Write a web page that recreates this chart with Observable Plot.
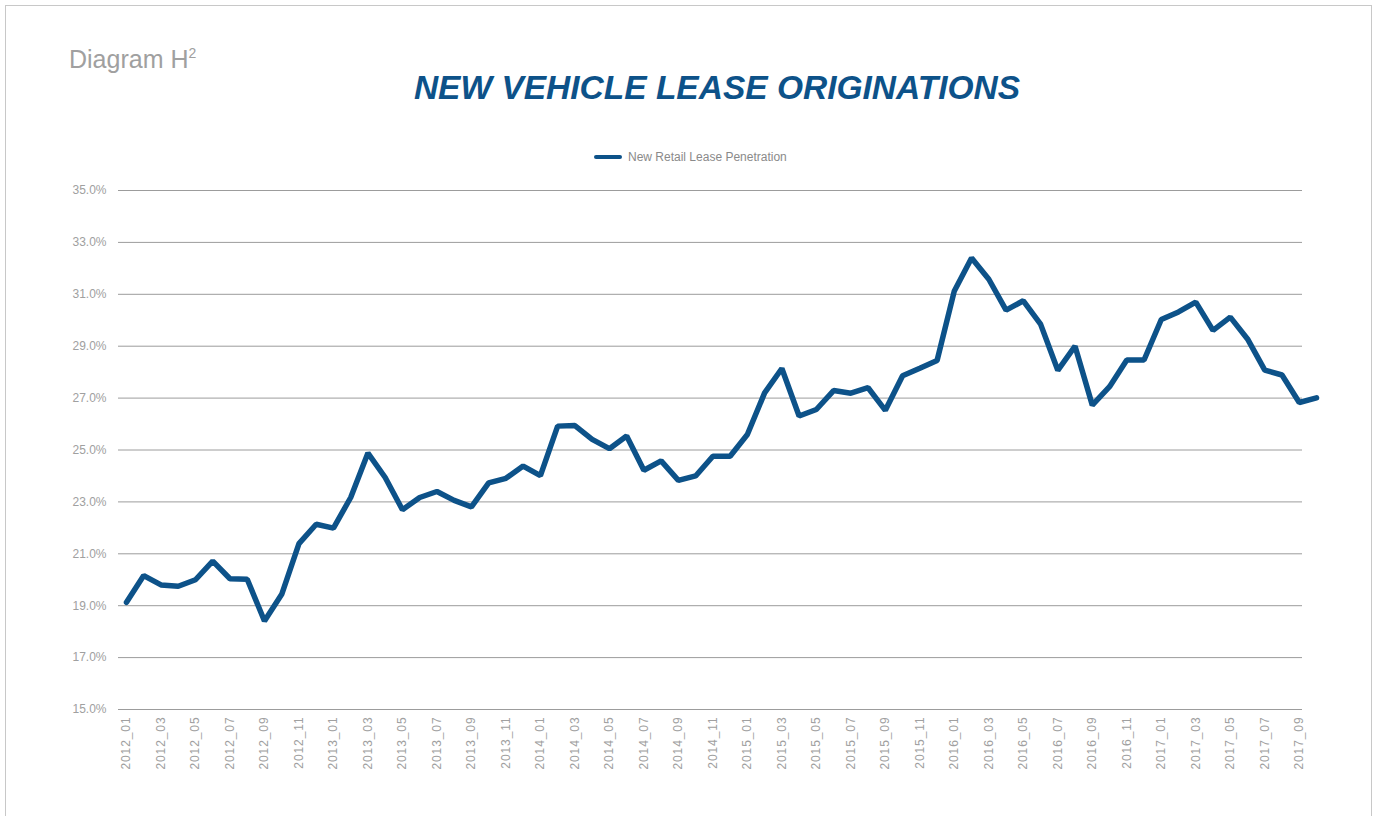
<!DOCTYPE html>
<html>
<head>
<meta charset="utf-8">
<script src="https://cdn.jsdelivr.net/npm/d3@7"></script>
<script src="https://cdn.jsdelivr.net/npm/@observablehq/plot@0.6"></script>
<style>
  html, body { margin: 0; padding: 0; background: #fff; width: 1379px; height: 816px; overflow: hidden; }
  body { position: relative; font-family: "Liberation Sans", Arial, sans-serif; }
  #frame { position: absolute; left: 5px; top: 5px; width: 1367px; height: 830px; border: 1px solid #c8c8c8; box-sizing: border-box; }
  #diagram { position: absolute; left: 69px; top: 45px; font-size: 25px; color: #a0a0a0; font-weight: 300; }
  #diagram sup { font-size: 14px; vertical-align: 10px; line-height: 0; }
  #title { position: absolute; left: 0; width: 1434px; top: 69px; text-align: center; font-size: 33.5px; font-weight: bold; font-style: italic; color: #0d5289; white-space: nowrap; }
  #legend { position: absolute; left: 594px; top: 150px; font-size: 12px; color: #8a8a8a; display: flex; align-items: center; }
  #legend .sw { width: 28px; height: 4px; background: #0d5289; border-radius: 2px; margin-right: 6px; }
  #chart { position: absolute; left: 0; top: 170px; }
  #chart svg g[aria-label="x-axis tick label"] text { letter-spacing: 0.9px; }
</style>
</head>
<body>
<div id="frame"></div>
<div id="diagram">Diagram H<sup>2</sup></div>
<div id="title">NEW VEHICLE LEASE ORIGINATIONS</div>
<div id="legend"><span class="sw"></span><span>New Retail Lease Penetration</span></div>
<div id="chart"></div>
<script>
const seriesName = "New Retail Lease Penetration";
const years = ["2012", "2013", "2014", "2015", "2016", "2017"];
const monthNums = ["01","02","03","04","05","06","07","08","09","10","11","12"];
const months = years.flatMap(y => monthNums.map(m => y + "_" + m)).slice(0, 70);
const values = [
  19.13, 20.16, 19.80, 19.75, 20.00, 20.72, 20.04, 20.02, 18.41, 19.44, 21.39, 22.14,
  21.99, 23.17, 24.88, 23.94, 22.70, 23.17, 23.40, 23.06, 22.81, 23.73, 23.91, 24.38,
  24.01, 25.92, 25.94, 25.41, 25.05, 25.54, 24.22, 24.58, 23.83, 24.00, 24.76, 24.76,
  25.60, 27.20, 28.14, 26.31, 26.56, 27.29, 27.19, 27.40, 26.53, 27.86, 28.15, 28.45,
  31.13, 32.40, 31.58, 30.39, 30.75, 29.85, 28.07, 29.00, 26.73, 27.44, 28.47, 28.47,
  30.03, 30.32, 30.70, 29.61, 30.12, 29.28, 28.08, 27.89, 26.83, 27.01
];
const yTicks = [15, 17, 19, 21, 23, 25, 27, 29, 31, 33, 35];
const xTickLabels = months.filter((d, i) => i % 2 === 0);

const data = months.map((m, i) => ({month: m, value: values[i], series: seriesName}));

const W = 1379, H = 646;
const chart = Plot.plot({
  width: W,
  height: H,
  marginLeft: 118,
  marginRight: 77,
  marginTop: 20,
  marginBottom: 107,
  style: {fontFamily: "'Liberation Sans', Arial, sans-serif", fontSize: "12px", color: "#a0a0a0", background: "transparent"},
  x: {type: "point", domain: months, range: [126, 1316], padding: 0, round: false},
  y: {domain: [15, 35], range: [H - 107, 20]},
  marks: [
    Plot.ruleY(yTicks, {stroke: "#9c9c9c", strokeWidth: 1}),
    Plot.axisY({ticks: yTicks, tickSize: 0, tickPadding: 12, tickFormat: d => d.toFixed(1) + "%", fill: "#a0a0a0", fontSize: 12, label: null}),
    Plot.axisX({ticks: xTickLabels, tickSize: 0, tickPadding: 7, tickRotate: -90, fill: "#a0a0a0", fontSize: 12, label: null}),
    Plot.line(data, {x: "month", y: "value", stroke: "#0d5289", strokeWidth: 5.5, strokeLinejoin: "miter", strokeLinecap: "round"})
  ]
});
document.getElementById("chart").appendChild(chart);
</script>
</body>
</html>
